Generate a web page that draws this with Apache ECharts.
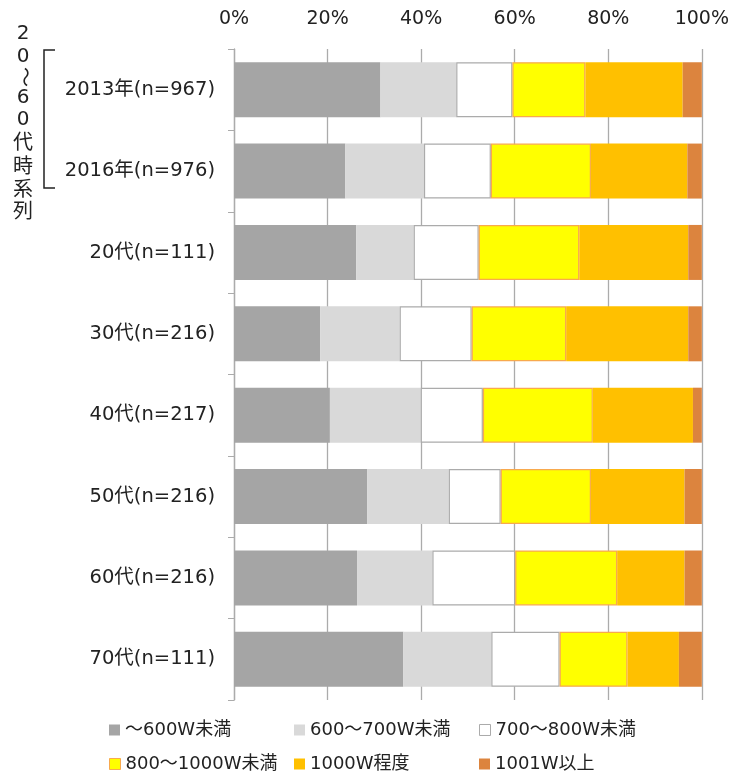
<!DOCTYPE html>
<html>
<head>
<meta charset="utf-8">
<script src="https://cdn.jsdelivr.net/npm/echarts@6/dist/echarts.min.js"></script>
<style>
  html, body { margin: 0; padding: 0; background: #fff; }
  #chart { width: 732px; height: 773px; }
</style>
</head>
<body>
<div id="chart"></div>
<script>
// Categories (top to bottom)
const categories = ['2013年(n=967)', '2016年(n=976)', '20代(n=111)', '30代(n=216)', '40代(n=217)', '50代(n=216)', '60代(n=216)', '70代(n=111)'];

// Share (%) per wattage band
const seriesNames = ['～600W未満', '600～700W未満', '700～800W未満', '800～1000W未満', '1000W程度', '1001W以上'];
const under600   = [31.3, 23.8, 26.1, 18.4, 20.5, 28.5, 26.3, 36.2];
const w600to700  = [16.2, 16.8, 12.3, 17.0, 19.4, 17.4, 16.1, 18.8];
const w700to800  = [12.0, 14.3, 13.9, 15.4, 13.3, 11.1, 17.7, 14.6];
const w800to1000 = [15.6, 21.4, 21.5, 20.2, 23.5, 19.3, 21.8, 14.5];
const w1000      = [20.8, 20.6, 23.3, 26.1, 21.4, 20.0, 14.4, 11.0];
const over1001   = [4.1, 3.1, 2.9, 2.9, 1.9, 3.7, 3.7, 4.9];

const xTicks = ['0%', '20%', '40%', '60%', '80%', '100%'];

const seriesData = [under600, w600to700, w700to800, w800to1000, w1000, over1001];
const fills   = ['#A5A5A5', '#D9D9D9', '#FFFFFF', '#FFFF00', '#FFC000', '#DC843E'];
const borders = ['#A5A5A5', '#D9D9D9', '#ABABAB', '#F8A94E', '#FFC000', '#DC843E'];
const borderW = [0, 0, 1.2, 1.2, 0, 0];

const font = '"DejaVu Sans", "Noto Sans CJK JP", sans-serif';

const chart = echarts.init(document.getElementById('chart'), null, { renderer: 'canvas' });

const series = seriesNames.map((name, i) => ({
  name: name,
  type: 'bar',
  stack: 'total',
  barWidth: 55,
  data: seriesData[i],
  itemStyle: { color: fills[i], borderColor: borders[i], borderWidth: borderW[i] },
  emphasis: { disabled: true }
}));

// Legend: three columns, two rows
const colX = [104, 289, 474];
const rowY = [716, 750];
const legends = seriesNames.map((name, i) => ({
  data: [{ name: name, itemStyle: { borderColor: borders[i], borderWidth: borderW[i] > 0 ? 1 : 0 } }],
  left: colX[i % 3],
  top: rowY[Math.floor(i / 3)],
  itemWidth: 11,
  itemHeight: 11,
  itemGap: 4,
  icon: 'rect',
  textStyle: { fontFamily: font, fontSize: 18, color: '#222' },
  selectedMode: false
}));

// Vertical caption beside the bracket
const captionChars = ['2', '0', '～', '6', '0', '代', '時', '系', '列'];
const captionY = [34, 57, 77, 98, 120, 144, 168, 191, 213];
const captionEls = captionChars.map((ch, i) => ({
  type: 'text',
  x: 23,
  y: captionY[i],
  rotation: ch === '～' ? -Math.PI / 2 : 0,
  style: {
    text: ch,
    fontFamily: font,
    fontSize: 20,
    fill: '#222',
    align: 'center',
    verticalAlign: 'middle'
  }
}));

chart.setOption({
  backgroundColor: '#ffffff',
  animation: false,
  grid: { left: 234, right: 29, top: 49, bottom: 73, containLabel: false },
  legend: legends,
  xAxis: {
    type: 'value',
    position: 'top',
    min: 0,
    max: 100,
    interval: 20,
    axisLine: { show: false },
    axisTick: { show: false },
    axisLabel: {
      fontFamily: font,
      fontSize: 19,
      color: '#222',
      margin: 20,
      formatter: v => xTicks[Math.round(v / 20)]
    },
    splitLine: { show: true, lineStyle: { color: '#ABABAB', width: 1.3 } }
  },
  yAxis: {
    type: 'category',
    inverse: true,
    data: categories,
    axisLine: { show: true, lineStyle: { color: '#ABABAB', width: 1.3 } },
    axisTick: { show: true, length: 6, inside: false, lineStyle: { color: '#ABABAB' } },
    axisLabel: { fontFamily: font, fontSize: 19.5, color: '#222', margin: 19 }
  },
  series: series,
  graphic: [
    {
      type: 'polyline',
      shape: { points: [[55, 50], [44, 50], [44, 188], [55, 188]] },
      style: { stroke: '#222', lineWidth: 1.5, fill: null }
    }
  ].concat(captionEls)
});
</script>
</body>
</html>
